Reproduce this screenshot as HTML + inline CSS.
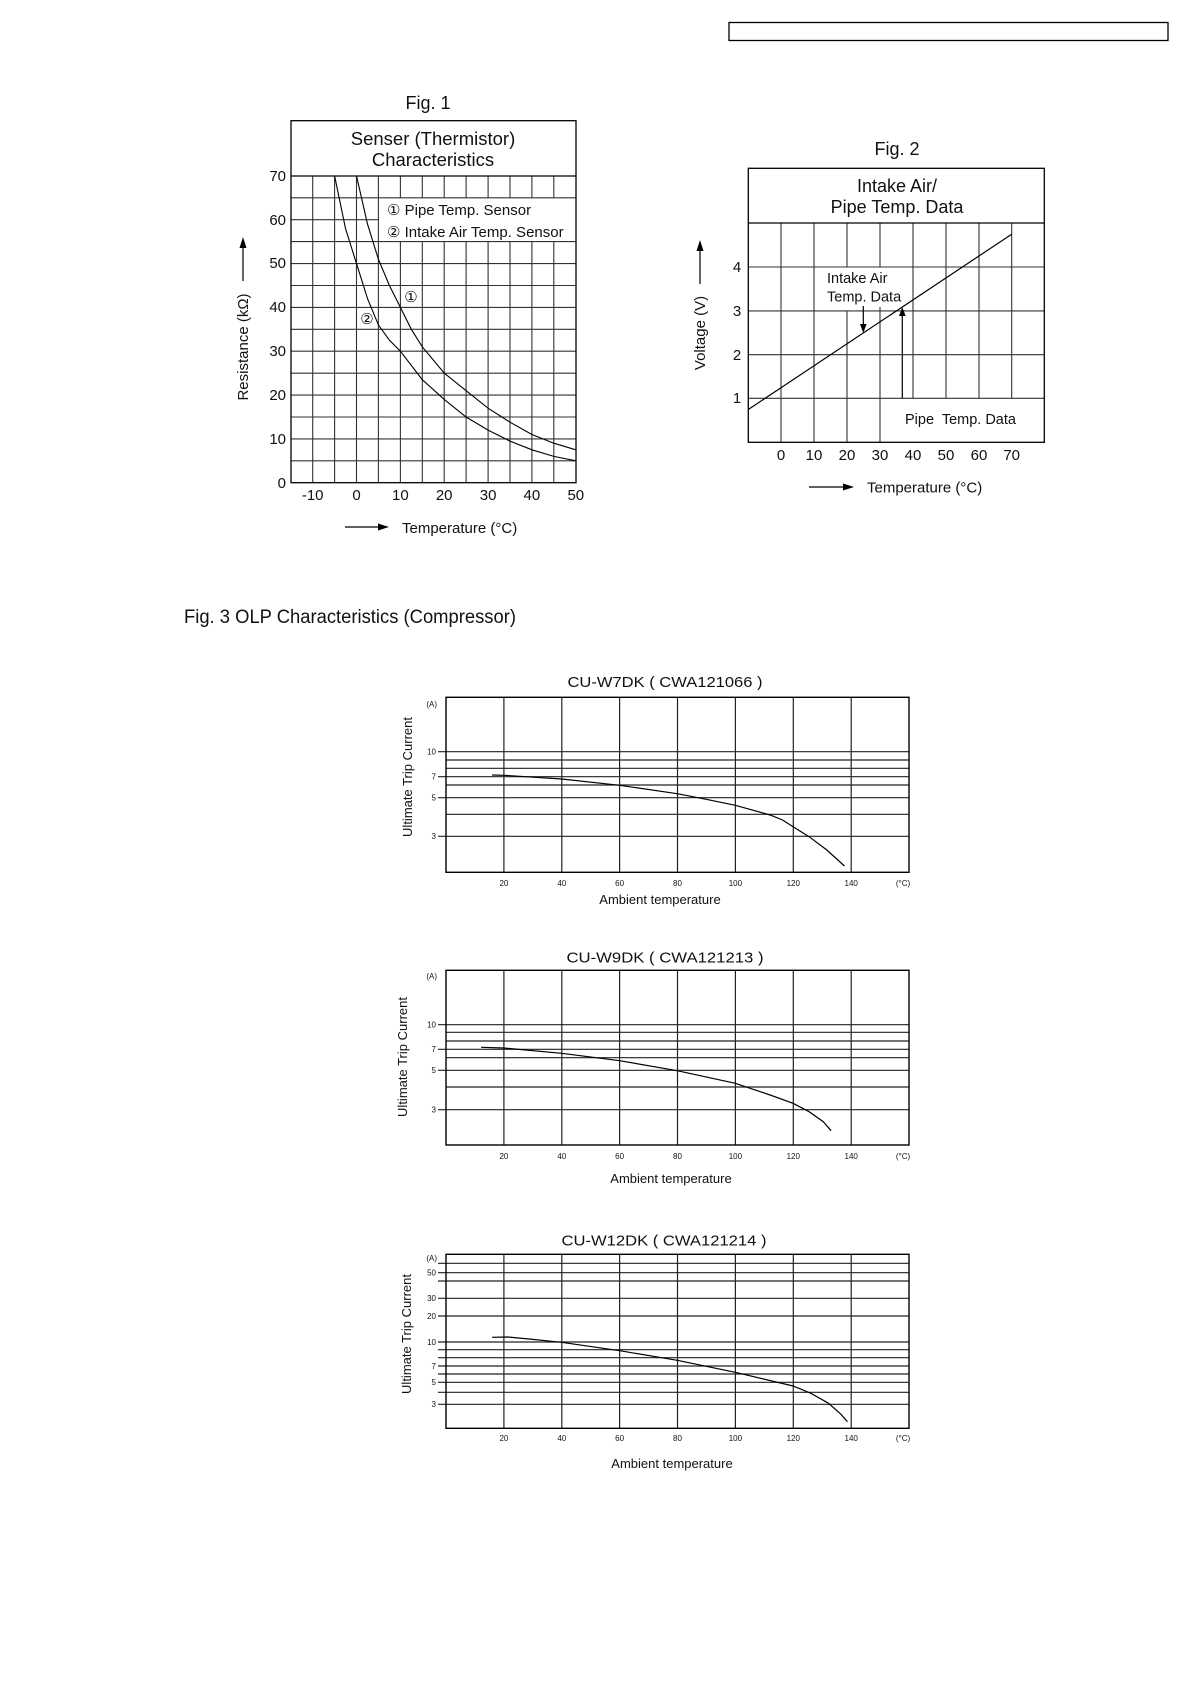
<!DOCTYPE html>
<html><head><meta charset="utf-8"><style>
html,body{margin:0;padding:0;background:#fff;}
svg{display:block;}
text{font-family:"Liberation Sans",sans-serif;fill:#111;}
</style></head><body>
<svg width="1190" height="1684" viewBox="0 0 1190 1684" xmlns="http://www.w3.org/2000/svg">
<rect x="729" y="22.5" width="439" height="18" fill="none" stroke="#000" stroke-width="1.3"/>

<!-- FIG 1 -->
<text x="428" y="109" font-size="18" text-anchor="middle">Fig. 1</text>
<g stroke="#333" stroke-width="1.1" fill="none">
<line x1="291" y1="460.8" x2="576" y2="460.8"/>
<line x1="291" y1="438.9" x2="576" y2="438.9"/>
<line x1="291" y1="417" x2="576" y2="417"/>
<line x1="291" y1="395.1" x2="576" y2="395.1"/>
<line x1="291" y1="373.2" x2="576" y2="373.2"/>
<line x1="291" y1="351.2" x2="576" y2="351.2"/>
<line x1="291" y1="329.3" x2="576" y2="329.3"/>
<line x1="291" y1="307.4" x2="576" y2="307.4"/>
<line x1="291" y1="285.5" x2="576" y2="285.5"/>
<line x1="291" y1="263.6" x2="576" y2="263.6"/>
<line x1="291" y1="241.6" x2="576" y2="241.6"/>
<line x1="291" y1="219.7" x2="378.4" y2="219.7"/>
<line x1="291" y1="197.8" x2="576" y2="197.8"/>
<line x1="312.7" y1="176" x2="312.7" y2="482.7"/>
<line x1="334.6" y1="176" x2="334.6" y2="482.7"/>
<line x1="356.5" y1="176" x2="356.5" y2="482.7"/>
<line x1="378.4" y1="176" x2="378.4" y2="482.7"/>
<path d="M400.4 176V197.8M400.4 241.6V482.7M422.3 176V197.8M422.3 241.6V482.7M444.2 176V197.8M444.2 241.6V482.7M466.1 176V197.8M466.1 241.6V482.7M488.1 176V197.8M488.1 241.6V482.7M510 176V197.8M510 241.6V482.7M531.9 176V197.8M531.9 241.6V482.7M553.8 176V197.8M553.8 241.6V482.7"/>
</g>
<rect x="291" y="120.7" width="285" height="362" fill="none" stroke="#000" stroke-width="1.3"/>
<line x1="291" y1="176" x2="576" y2="176" stroke="#000" stroke-width="1.3"/>
<text x="433" y="145" font-size="18.5" text-anchor="middle">Senser (Thermistor)</text>
<text x="433" y="166" font-size="18.5" text-anchor="middle">Characteristics</text>
<text x="387" y="215" font-size="15">① Pipe Temp. Sensor</text>
<text x="387" y="237" font-size="15">② Intake Air Temp. Sensor</text>
<text x="411" y="302" font-size="15" text-anchor="middle">①</text>
<text x="367" y="324" font-size="15" text-anchor="middle">②</text>
<g fill="none" stroke="#000" stroke-width="1.1">
<polyline points="356.5,175.9 367.5,224.1 378.4,259.2 389.4,285.5 400.4,307.4 411.3,329.3 422.3,346.8 444.2,373.1 466.1,390.7 488.1,408.2 510,422.2 531.9,434.5 553.8,443.2 575.8,449.8"/>
<polyline points="334.6,175.9 345.5,228.5 356.5,263.6 367.5,298.6 378.4,324.9 389.4,340.2 400.4,351.2 422.3,379.7 444.2,399.4 466.1,417 488.1,430.1 510,441.1 531.9,449.8 553.8,456.4 575.8,460.8"/>
</g>
<g font-size="15" text-anchor="end">
<text x="286" y="181">70</text><text x="286" y="225">60</text><text x="286" y="268">50</text>
<text x="286" y="312">40</text><text x="286" y="356">30</text><text x="286" y="400">20</text>
<text x="286" y="444">10</text><text x="286" y="488">0</text>
</g>
<g font-size="15" text-anchor="middle">
<text x="312.7" y="500">-10</text><text x="356.5" y="500">0</text><text x="400.4" y="500">10</text>
<text x="444.2" y="500">20</text><text x="488.1" y="500">30</text><text x="531.9" y="500">40</text><text x="575.8" y="500">50</text>
</g>
<line x1="345" y1="527" x2="380" y2="527" stroke="#000" stroke-width="1.2"/>
<polygon points="378,523.5 389,527 378,530.5" fill="#000"/>
<text x="402" y="533" font-size="15">Temperature (°C)</text>
<text transform="translate(248,347) rotate(-90)" font-size="15" text-anchor="middle">Resistance (kΩ)</text>
<line x1="243" y1="281" x2="243" y2="246" stroke="#000" stroke-width="1.2"/>
<polygon points="239.5,248 243,237 246.5,248" fill="#000"/>

<!-- FIG 2 -->
<text x="897" y="155" font-size="18" text-anchor="middle">Fig. 2</text>
<g stroke="#333" stroke-width="1.1" fill="none">
<line x1="748.3" y1="398.3" x2="1044.3" y2="398.3"/>
<line x1="748.3" y1="354.7" x2="1044.3" y2="354.7"/>
<line x1="748.3" y1="310.9" x2="1044.3" y2="310.9"/>
<line x1="748.3" y1="267" x2="1044.3" y2="267"/>
<path d="M781 223V442.3M814 223V442.3M847 223V267M847 311V442.3M880 223V267M880 307V442.3M913 223V398.3M946 223V398.3M979 223V398.3M1011.7 223V398.3"/>
</g>
<rect x="748.3" y="168.3" width="296" height="274" fill="none" stroke="#000" stroke-width="1.3"/>
<line x1="748.3" y1="223" x2="1044.3" y2="223" stroke="#000" stroke-width="1.3"/>
<text x="897" y="192" font-size="18" text-anchor="middle">Intake Air/</text>
<text x="897" y="213" font-size="18" text-anchor="middle">Pipe Temp. Data</text>
<line x1="748.3" y1="409.5" x2="1011.7" y2="234.2" stroke="#000" stroke-width="1.2"/>
<text x="827" y="283" font-size="14.5">Intake Air</text>
<text x="827" y="301.5" font-size="14.5">Temp. Data</text>
<line x1="863.3" y1="306" x2="863.3" y2="326" stroke="#000" stroke-width="1.2"/>
<polygon points="860,324 863.3,333 866.6,324" fill="#000"/>
<line x1="902.3" y1="398.3" x2="902.3" y2="314" stroke="#000" stroke-width="1.2"/>
<polygon points="899,316 902.3,307 905.6,316" fill="#000"/>
<text x="905" y="424" font-size="14.5" xml:space="preserve">Pipe  Temp. Data</text>
<g font-size="15" text-anchor="middle">
<text x="737" y="272">4</text><text x="737" y="316">3</text><text x="737" y="360">2</text><text x="737" y="403">1</text>
<text x="781" y="460">0</text><text x="814" y="460">10</text><text x="847" y="460">20</text><text x="880" y="460">30</text>
<text x="913" y="460">40</text><text x="946" y="460">50</text><text x="979" y="460">60</text><text x="1011.7" y="460">70</text>
</g>
<line x1="809" y1="487" x2="845" y2="487" stroke="#000" stroke-width="1.2"/>
<polygon points="843,483.5 854,487 843,490.5" fill="#000"/>
<text x="867" y="492.5" font-size="15">Temperature (°C)</text>
<text transform="translate(705,333) rotate(-90)" font-size="15" text-anchor="middle">Voltage (V)</text>
<line x1="700" y1="284" x2="700" y2="249" stroke="#000" stroke-width="1.2"/>
<polygon points="696.5,251 700,240 703.5,251" fill="#000"/>

<!-- FIG 3 -->
<text x="184" y="623" font-size="19" textLength="332" lengthAdjust="spacingAndGlyphs">Fig. 3 OLP Characteristics (Compressor)</text>

<!-- Chart A -->
<text x="665" y="687" font-size="15" text-anchor="middle" textLength="195" lengthAdjust="spacingAndGlyphs">CU-W7DK ( CWA121066 )</text>
<g stroke="#222" stroke-width="1.2" fill="none">
<path d="M503.9 697.3V872.3M561.8 697.3V872.3M619.6 697.3V872.3M677.5 697.3V872.3M735.4 697.3V872.3M793.3 697.3V872.3M851.2 697.3V872.3"/>
<path d="M438 751.7H909M446 760H909M446 768.3H909M438 776.7H909M446 785H909M438 797.7H909M446 814.3H909M438 836.3H909"/>
</g>
<rect x="446" y="697.3" width="463" height="175" fill="none" stroke="#000" stroke-width="1.4"/>
<polyline fill="none" stroke="#000" stroke-width="1.2" points="492.1,775 503.8,775.3 561.6,779 619.7,785.3 677.2,793.7 706.2,799.3 735.3,805.3 770.1,815 782.5,820 793.1,826.7 809.1,836.7 826.8,850 844.5,866"/>
<g font-size="8" text-anchor="end">
<text x="437" y="707">(A)</text><text x="436" y="754.5">10</text><text x="436" y="779.5">7</text><text x="436" y="800.5">5</text><text x="436" y="839">3</text>
</g>
<g font-size="8" text-anchor="middle">
<text x="503.9" y="886">20</text><text x="561.8" y="886">40</text><text x="619.6" y="886">60</text><text x="677.5" y="886">80</text>
<text x="735.4" y="886">100</text><text x="793.3" y="886">120</text><text x="851.2" y="886">140</text><text x="903" y="886">(°C)</text>
</g>
<text x="660" y="904" font-size="13" text-anchor="middle">Ambient temperature</text>
<text transform="translate(412,777) rotate(-90)" font-size="13" text-anchor="middle">Ultimate Trip Current</text>

<!-- Chart B -->
<text x="665" y="962.5" font-size="15" text-anchor="middle" textLength="197" lengthAdjust="spacingAndGlyphs">CU-W9DK ( CWA121213 )</text>
<g stroke="#222" stroke-width="1.2" fill="none">
<path d="M503.9 970.3V1145M561.8 970.3V1145M619.6 970.3V1145M677.5 970.3V1145M735.4 970.3V1145M793.3 970.3V1145M851.2 970.3V1145"/>
<path d="M438 1024.7H909M446 1032.3H909M446 1041H909M438 1049.3H909M446 1057.7H909M438 1070.3H909M446 1087H909M438 1109.7H909"/>
</g>
<rect x="446" y="970.3" width="463" height="174.7" fill="none" stroke="#000" stroke-width="1.4"/>
<polyline fill="none" stroke="#000" stroke-width="1.2" points="481.1,1047.3 503.8,1048 561.6,1053.3 619.7,1060.7 677.2,1070.7 735.3,1083.3 770.1,1095 793.1,1103.3 809.1,1111.7 823.3,1121.7 831.1,1130.7"/>
<g font-size="8" text-anchor="end">
<text x="437" y="979">(A)</text><text x="436" y="1027.5">10</text><text x="436" y="1052">7</text><text x="436" y="1073">5</text><text x="436" y="1112.5">3</text>
</g>
<g font-size="8" text-anchor="middle">
<text x="503.9" y="1159">20</text><text x="561.8" y="1159">40</text><text x="619.6" y="1159">60</text><text x="677.5" y="1159">80</text>
<text x="735.4" y="1159">100</text><text x="793.3" y="1159">120</text><text x="851.2" y="1159">140</text><text x="903" y="1159">(°C)</text>
</g>
<text x="671" y="1183" font-size="13" text-anchor="middle">Ambient temperature</text>
<text transform="translate(407,1057) rotate(-90)" font-size="13" text-anchor="middle">Ultimate Trip Current</text>

<!-- Chart C -->
<text x="664" y="1245.5" font-size="15" text-anchor="middle" textLength="205" lengthAdjust="spacingAndGlyphs">CU-W12DK ( CWA121214 )</text>
<g stroke="#222" stroke-width="1.2" fill="none">
<path d="M503.9 1254.3V1428.3M561.8 1254.3V1428.3M619.6 1254.3V1428.3M677.5 1254.3V1428.3M735.4 1254.3V1428.3M793.3 1254.3V1428.3M851.2 1254.3V1428.3"/>
<path d="M438 1263.3H909M438 1272.7H909M438 1281H909M438 1298.3H909M438 1316H909M438 1342H909M438 1349.7H909M438 1357.7H909M438 1366H909M438 1374H909M438 1382.3H909M438 1392.3H909M438 1404.3H909"/>
</g>
<rect x="446" y="1254.3" width="463" height="174" fill="none" stroke="#000" stroke-width="1.4"/>
<polyline fill="none" stroke="#000" stroke-width="1.2" points="492.1,1337.3 507.7,1337 528.9,1339 561.6,1342.3 619.7,1350.7 677.2,1360.3 735.3,1372.3 793.1,1386 810.9,1393.3 828.6,1403.3 841,1414.3 847.4,1421.7"/>
<g font-size="8" text-anchor="end">
<text x="437" y="1261">(A)</text><text x="436" y="1275.5">50</text><text x="436" y="1301">30</text><text x="436" y="1319">20</text>
<text x="436" y="1345">10</text><text x="436" y="1369">7</text><text x="436" y="1385">5</text><text x="436" y="1407">3</text>
</g>
<g font-size="8" text-anchor="middle">
<text x="503.9" y="1441">20</text><text x="561.8" y="1441">40</text><text x="619.6" y="1441">60</text><text x="677.5" y="1441">80</text>
<text x="735.4" y="1441">100</text><text x="793.3" y="1441">120</text><text x="851.2" y="1441">140</text><text x="903" y="1441">(°C)</text>
</g>
<text x="672" y="1468" font-size="13" text-anchor="middle">Ambient temperature</text>
<text transform="translate(411,1334) rotate(-90)" font-size="13" text-anchor="middle">Ultimate Trip Current</text>
</svg>
</body></html>
